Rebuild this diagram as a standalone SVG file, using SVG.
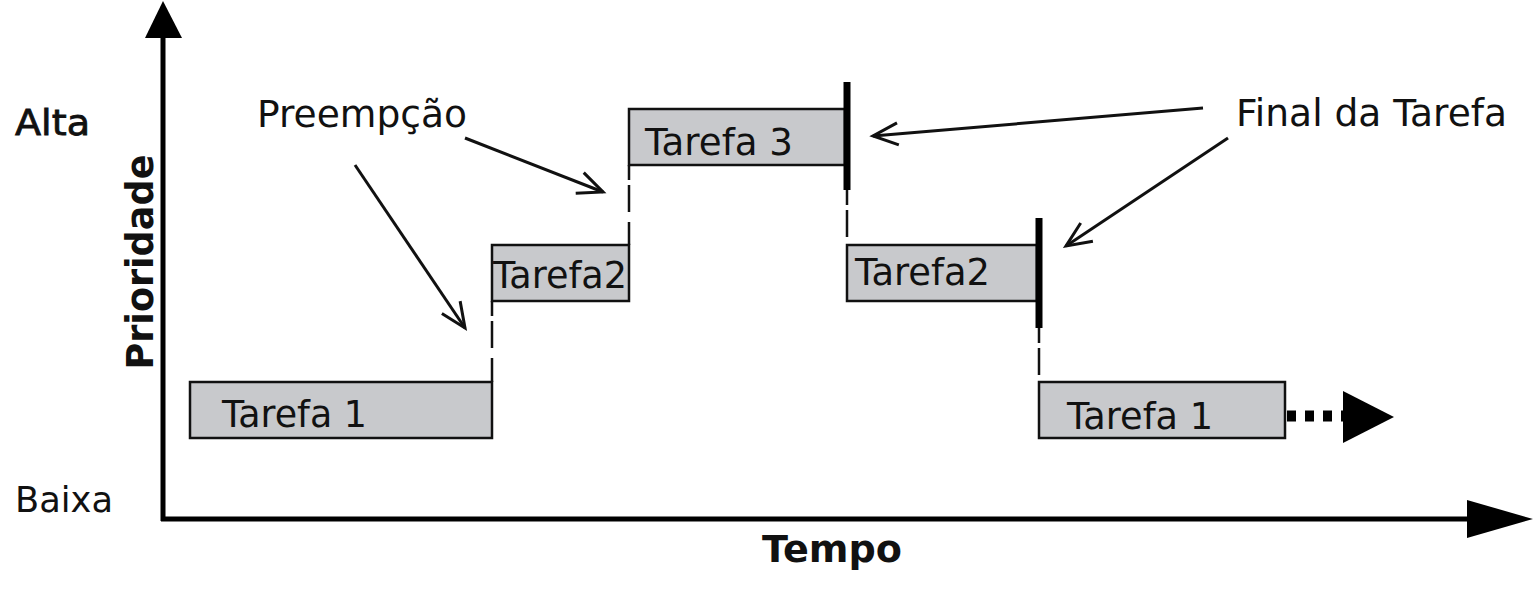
<svg xmlns="http://www.w3.org/2000/svg" width="1535" height="597" viewBox="0 0 1535 597">
<style>
.txt{font-family:"DejaVu Sans","Liberation Sans",sans-serif;fill:#111;}
.bold{font-weight:bold;}
.box{fill:#c8c9cc;stroke:#111;stroke-width:2.5;}
.dash{stroke:#111;stroke-width:2.5;fill:none;stroke-dasharray:15 5 27 10 40;}
.bar{stroke:#000;stroke-width:7;}
.callout{stroke:#111;stroke-width:3;fill:none;marker-end:url(#open);}
.axis{stroke:#000;stroke-width:5;fill:none;}
</style>
<defs>
<marker id="open" markerWidth="32" markerHeight="30" refX="27" refY="13" orient="auto" markerUnits="userSpaceOnUse">
<path d="M2,2 L27,13 L2,24" fill="none" stroke="#111" stroke-width="3"/>
</marker>
</defs>
<g id="axes">
<line class="axis" x1="163" y1="30" x2="163" y2="521"/>
<polygon points="163,1 145,38 182,38" fill="#000"/>
<line class="axis" x1="161" y1="519" x2="1475" y2="519"/>
<polygon points="1533,519 1467,500 1467,538" fill="#000"/>
</g>
<g id="labels">
<text class="txt" x="15" y="135" font-size="35" textLength="75" lengthAdjust="spacingAndGlyphs" stroke="#111" stroke-width="0.8">Alta</text>
<text class="txt" x="15" y="512" font-size="35" textLength="98" lengthAdjust="spacingAndGlyphs">Baixa</text>
<text class="txt bold" transform="translate(153,262) rotate(-90)" font-size="37" text-anchor="middle" textLength="215" lengthAdjust="spacingAndGlyphs">Prioridade</text>
<text class="txt bold" x="762" y="562" font-size="37" textLength="140" lengthAdjust="spacingAndGlyphs">Tempo</text>
<text class="txt" x="257" y="127" font-size="37" textLength="210" lengthAdjust="spacingAndGlyphs">Preempção</text>
<text class="txt" x="1236" y="126" font-size="37" textLength="271" lengthAdjust="spacingAndGlyphs">Final da Tarefa</text>
</g>
<g id="tarefa1a">
<rect class="box" x="190" y="382" width="302" height="56"/>
<text class="txt" x="222" y="427" font-size="38" textLength="145" lengthAdjust="spacingAndGlyphs">Tarefa 1</text>
</g>
<g id="tarefa2a">
<rect class="box" x="492" y="245" width="137" height="56"/>
<text class="txt" x="493" y="288" font-size="38" textLength="134" lengthAdjust="spacingAndGlyphs">Tarefa2</text>
</g>
<g id="tarefa3">
<rect class="box" x="629" y="109" width="216" height="56"/>
<text class="txt" x="645" y="155" font-size="38" textLength="148" lengthAdjust="spacingAndGlyphs">Tarefa 3</text>
</g>
<g id="tarefa2b">
<rect class="box" x="847" y="245" width="190" height="56"/>
<text class="txt" x="855" y="285" font-size="38" textLength="135" lengthAdjust="spacingAndGlyphs">Tarefa2</text>
</g>
<g id="tarefa1b">
<rect class="box" x="1039" y="382" width="246" height="56"/>
<text class="txt" x="1067" y="429" font-size="38" textLength="146" lengthAdjust="spacingAndGlyphs">Tarefa 1</text>
</g>
<g id="connectors">
<line class="dash" x1="492" y1="301" x2="492" y2="382"/>
<line class="dash" x1="629" y1="165" x2="629" y2="245"/>
<line class="dash" x1="847" y1="190" x2="847" y2="245"/>
<line class="dash" x1="1039" y1="328" x2="1039" y2="382"/>
<line class="bar" x1="847" y1="82" x2="847" y2="190"/>
<line class="bar" x1="1039" y1="218" x2="1039" y2="328"/>
<line class="callout" x1="355" y1="165" x2="465" y2="328"/>
<line class="callout" x1="465" y1="138" x2="603" y2="192"/>
<line class="callout" x1="1203" y1="108" x2="873" y2="136"/>
<line class="callout" x1="1228" y1="138" x2="1066" y2="246"/>
<line x1="1287" y1="416" x2="1343" y2="416" stroke="#000" stroke-width="11" stroke-dasharray="9 9"/>
<polygon points="1343,391 1394,417 1343,443" fill="#000"/>
</g>
</svg>
